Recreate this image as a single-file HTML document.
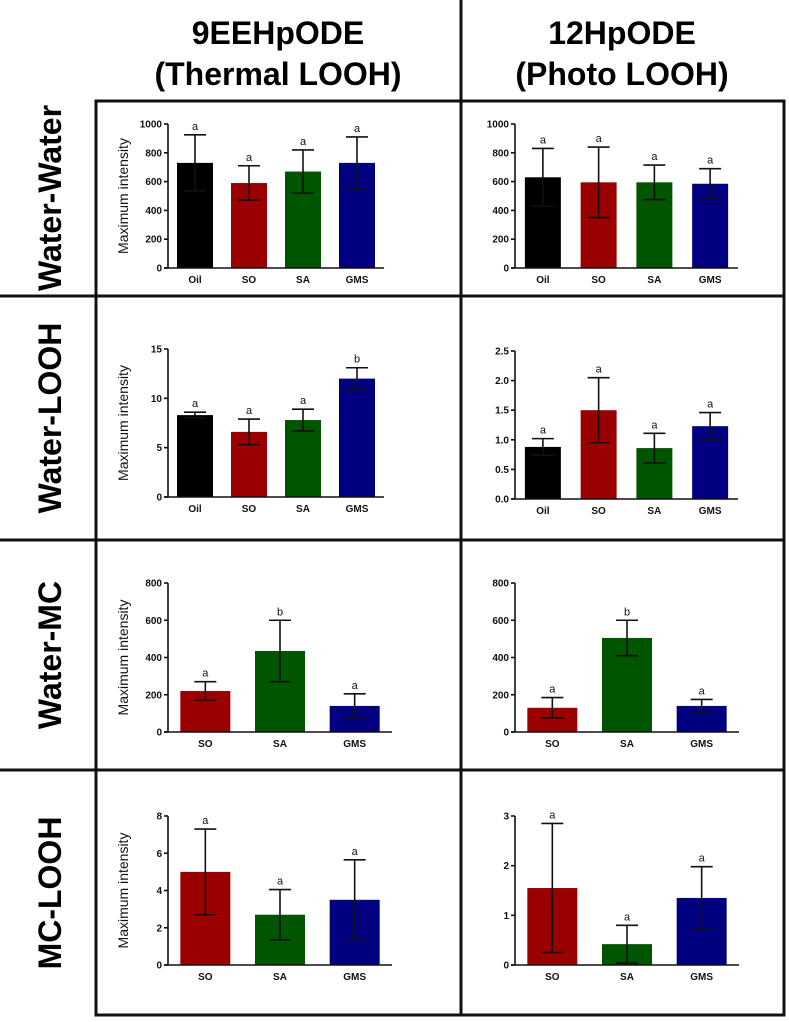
<!DOCTYPE html>
<html><head><meta charset="utf-8"><style>
html,body{margin:0;padding:0;background:#fff;}
svg{display:block;font-family:"Liberation Sans",Arial,sans-serif;}
</style></head><body>
<svg id="fig" width="789" height="1022" viewBox="0 0 789 1022"></svg>
<script>
const NS="http://www.w3.org/2000/svg";
const svg=document.getElementById('fig');
const COLORS={Oil:'#000000',SO:'#9b0000',SA:'#005500',GMS:'#000080'};

// Panel data
const cats4=['Oil','SO','SA','GMS'];
const cats3=['SO','SA','GMS'];
const ww9Vals=[730,590,670,730];   const ww9Err=[195,120,150,180]; const ww9Let=['a','a','a','a'];
const ww12Vals=[630,595,595,585];  const ww12Err=[200,245,120,105]; const ww12Let=['a','a','a','a'];
const wl9Vals=[8.3,6.6,7.8,12.0];  const wl9Err=[0.3,1.3,1.1,1.1]; const wl9Let=['a','a','a','b'];
const wl12Vals=[0.88,1.5,0.86,1.23]; const wl12Err=[0.14,0.55,0.25,0.23]; const wl12Let=['a','a','a','a'];
const wm9Vals=[220,435,140];  const wm9Err=[50,165,65]; const wm9Let=['a','b','a'];
const wm12Vals=[130,505,140]; const wm12Err=[55,95,35]; const wm12Let=['a','b','a'];
const ml9Vals=[5.0,2.7,3.5];  const ml9Err=[2.3,1.35,2.15]; const ml9Let=['a','a','a'];
const ml12Vals=[1.55,0.42,1.35]; const ml12Err=[1.3,0.38,0.63]; const ml12Let=['a','a','a'];
const ticks1000=['0','200','400','600','800','1000'];
const ticks15=['0','5','10','15'];
const ticks25=['0.0','0.5','1.0','1.5','2.0','2.5'];
const ticks800=['0','200','400','600','800'];
const ticks8=['0','2','4','6','8'];
const ticks3=['0','1','2','3'];

function el(tag,attrs,parent){const e=document.createElementNS(NS,tag);for(const k in attrs)e.setAttribute(k,attrs[k]);(parent||svg).appendChild(e);return e;}
function txt(s,attrs,parent){const e=el('text',attrs,parent);e.textContent=s;return e;}

function panel(name,x0,yTop,yBot,axW,cats,vals,errs,lets,ticks,showTitle){
  const g=el('g',{});
  
  
  const maxV=parseFloat(ticks[ticks.length-1]);
  const ys=v=>yBot-(v/maxV)*(yBot-yTop);
  const n=cats.length, slot=axW/n, bw=n===4?36:50;
  cats.forEach((c,i)=>{
    const cx=x0+slot*(i+0.5);
    const b=el('rect',{x:cx-bw/2,y:ys(vals[i]),width:bw,height:yBot-ys(vals[i]),fill:COLORS[c]},g);
    
    
    const top=ys(vals[i]+errs[i]), bot=ys(vals[i]-errs[i]);
    el('line',{x1:cx,x2:cx,y1:top,y2:bot,stroke:'#111','stroke-width':1.6},g);
    el('line',{x1:cx-11,x2:cx+11,y1:top,y2:top,stroke:'#111','stroke-width':1.6},g);
    el('line',{x1:cx-11,x2:cx+11,y1:bot,y2:bot,stroke:'#111','stroke-width':1.6},g);
    const lt=txt(lets[i],{x:cx,y:top-5,'font-size':11,'text-anchor':'middle',fill:'#111'},g);
    
    
    const xl=txt(c,{x:cx,y:yBot+15,'font-size':10,'font-weight':'bold','text-anchor':'middle',fill:'#111'},g);
    
    
  });
  el('line',{x1:x0,x2:x0,y1:yTop,y2:yBot,stroke:'#111','stroke-width':1.6},g);
  el('line',{x1:x0-4,x2:x0+axW,y1:yBot,y2:yBot,stroke:'#111','stroke-width':1.6},g);
  ticks.forEach(t=>{
    const y=ys(parseFloat(t));
    el('line',{x1:x0-4,x2:x0,y1:y,y2:y,stroke:'#111','stroke-width':1.6},g);
    const tl=txt(t,{x:x0-6,y:y+3.5,'font-size':10,'font-weight':'bold','text-anchor':'end',fill:'#111'},g);
    
    
  });
  if(showTitle){
    const cy=(yTop+yBot)/2;
    const t=txt('Maximum intensity',{x:128,y:cy,'font-size':14,'text-anchor':'middle',transform:`rotate(-90 128 ${cy})`,fill:'#111'},g);
    
    
  }
}

// grid
const gl={stroke:'#111','stroke-width':3};
el('rect',{x:96,y:101,width:688,height:914,fill:'none',stroke:'#111','stroke-width':3});
el('line',Object.assign({x1:461,x2:461,y1:0,y2:1015},gl));
[296,540,770].forEach(y=>el('line',Object.assign({x1:0,x2:784,y1:y,y2:y},gl)));

// headers
[[278,'9EEHpODE','(Thermal LOOH)'],[622,'12HpODE','(Photo LOOH)']].forEach(([x,a,b],i)=>{
  const t1=txt(a,{x:x,y:44,'font-size':32,'font-weight':'bold','text-anchor':'middle'});
  
  
  const t2=txt(b,{x:x,y:85,'font-size':32,'font-weight':'bold','text-anchor':'middle'});
  
  
});
[[198,'Water-Water'],[418,'Water-LOOH'],[655,'Water-MC'],[893,'MC-LOOH']].forEach(([y,s])=>{
  const t=txt(s,{x:61,y:y,'font-size':32,'font-weight':'bold','text-anchor':'middle',transform:`rotate(-90 61 ${y})`});
  
  
});

panel('panel-water-water-9eehpode',168,124,268,216,cats4,ww9Vals,ww9Err,ww9Let,ticks1000,true);
panel('panel-water-water-12hpode',515,124,268,223,cats4,ww12Vals,ww12Err,ww12Let,ticks1000,false);
panel('panel-water-looh-9eehpode',168,349,497,216,cats4,wl9Vals,wl9Err,wl9Let,ticks15,true);
panel('panel-water-looh-12hpode',515,351,499,223,cats4,wl12Vals,wl12Err,wl12Let,ticks25,false);
panel('panel-water-mc-9eehpode',168,583,732,224,cats3,wm9Vals,wm9Err,wm9Let,ticks800,true);
panel('panel-water-mc-12hpode',515,583,732,224,cats3,wm12Vals,wm12Err,wm12Let,ticks800,false);
panel('panel-mc-looh-9eehpode',168,816,965,224,cats3,ml9Vals,ml9Err,ml9Let,ticks8,true);
panel('panel-mc-looh-12hpode',515,816,965,224,cats3,ml12Vals,ml12Err,ml12Let,ticks3,false);
</script>
</body></html>
